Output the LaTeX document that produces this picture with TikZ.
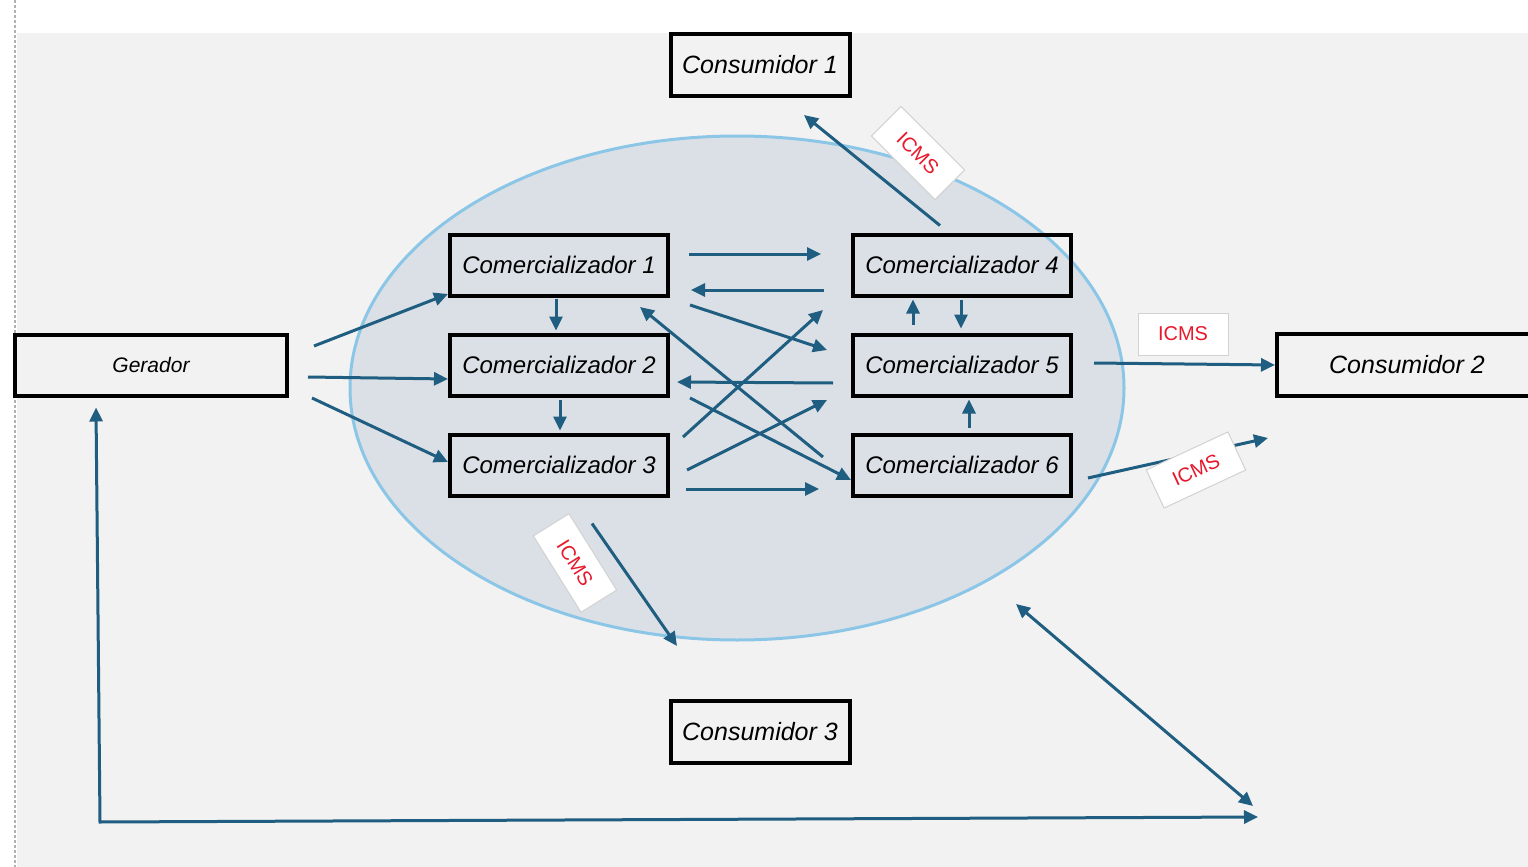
\documentclass[tikz,border=0pt]{standalone}
\usepackage{fontspec}
\setmainfont{Liberation Sans}
\usetikzlibrary{calc,arrows.meta}
\definecolor{flowblue}{RGB}{31,94,128}
\definecolor{bggray}{RGB}{242,242,242}
\definecolor{ellfill}{RGB}{218,224,230}
\definecolor{ellline}{RGB}{140,198,230}
\definecolor{icmsred}{RGB}{232,25,44}

\begin{document}
\begin{tikzpicture}[x=0.5pt, y=-0.5pt,
    >={Triangle[length=7pt,width=6.5pt]},
    agent/.style={draw, line width=2pt, minimum width=109pt, minimum height=30.5pt,
      inner sep=0pt, font=\itshape\fontsize{12}{14}\selectfont},
    client/.style={agent, minimum width=89.5pt, minimum height=31pt,
      font=\itshape\fontsize{12.5}{14}\selectfont},
    flow/.style={draw=flowblue, line width=1.5pt, ->},
    icms/.style={draw=gray!35, fill=white, line width=0.5pt, text=icmsred,
      minimum width=45pt, minimum height=21pt, inner sep=0pt,
      font=\fontsize{10}{12}\selectfont}]
    \useasboundingbox (0,0) rectangle (1528,867);
    \fill[white] (0,0) rectangle (1528,867);
    \fill[bggray] (17,33) rectangle (1528,867);
    \draw[gray!60, line width=0.6pt, dash pattern=on 1.5pt off 1pt] (15,0) -- (15,867);
    \draw[fill=ellfill, draw=ellline, line width=1.5pt] (737,388) ellipse [x radius=193.5pt, y radius=126pt];

    \node[agent, minimum width=136pt, font=\itshape\fontsize{10.5}{12}\selectfont] (g) at (151,365) {Gerador};

    \node[agent] (c1) at (559,265) {Comercializador 1};
    \node[agent] (c2) at (559,365) {Comercializador 2};
    \node[agent] (c3) at (559,465) {Comercializador 3};
    \node[agent] (c4) at (962,265) {Comercializador 4};
    \node[agent] (c5) at (962,365) {Comercializador 5};
    \node[agent] (c6) at (962,465) {Comercializador 6};

    \node[client] (k1) at (760,65) {Consumidor 1};
    \node[client, minimum width=130pt] (k2) at (1407,365) {Consumidor 2};
    \node[client] (k3) at (760,732) {Consumidor 3};

    \coordinate (m1) at (1016,604);
    \coordinate (m2) at (1253,806);
    \coordinate (l1) at (100,822);
    \coordinate (l2) at (1258,817);

    \draw[flow] ($(g.east)+(25,-19)$) -- ($(c1.west)+(0,29)$);
    \draw[flow] ($(g.east)+(19,12)$) -- ($(c2.west)+(0,14)$);
    \draw[flow] ($(g.east)+(23,33)$) -- ($(c3.west)+(0,-3)$);

    \draw[flow] ($(c1.south)+(-3,1)$) -- ($(c2.north)+(-3,-2)$);
    \draw[flow] ($(c2.south)+(1,2)$) -- ($(c3.north)+(1,-2)$);

    \draw[flow] ($(c1.east)+(19,-11)$) -- ($(c4.west)+(-30,-11)$);
    \draw[flow] ($(c4.west)+(-27,25)$) -- ($(c1.east)+(21,25)$);
    \draw[flow] ($(c1.east)+(20,40)$) -- ($(c5.west)+(-24,-15)$);
    \draw[flow] ($(c3.east)+(13,-28)$) -- ($(c4.west)+(-28,45)$);
    \draw[flow] ($(c5.west)+(-18,18)$) -- ($(c2.east)+(7,17)$);
    \draw[flow] ($(c3.east)+(17,5)$) -- ($(c5.west)+(-24,35)$);
    \draw[flow] ($(c2.east)+(20,33)$) -- ($(c6.west)+(0,15)$);
    \draw[flow] ($(c6.west)+(-28,-8)$) -- ($(c1.east)+(-30,42)$);
    \draw[flow] ($(c3.east)+(16,24)$) -- ($(c6.west)+(-32,24)$);

    \draw[flow] ($(c5.north)+(-49,-8)$) -- ($(c4.south)+(-49,2)$);
    \draw[flow] ($(c4.south)+(-1,2)$) -- ($(c5.north)+(-1,-4)$);
    \draw[flow] ($(c6.north)+(7,-5)$) -- ($(c5.south)+(7,2)$);

    \draw[flow] ($(c4.north)+(-22,-7)$) -- ($(k1.south)+(44,17)$);
    \draw[flow] ($(c5.east)+(21,-2)$) -- (k2.west);
    \draw[flow] ($(c6.east)+(15,13)$) -- ($(k2.south west)+(-7,40)$);
    \draw[flow] ($(c3.south)+(33,26)$) -- ($(k3.north)+(-83,-53)$);

    \draw[flow, <->] (m1) -- (m2);
    \draw[flow, <->] ($(g.south)+(-55,10)$) -- (l1) -- (l2);

    \node[icms, rotate=-45] (t1) at (918,153) {ICMS};
    \node[icms] (t2) at (1183,334) {ICMS};
    \node[icms, rotate=25] (t3) at (1196,470) {ICMS};
    \node[icms, rotate=-58] (t4) at (575,563) {ICMS};
  \end{tikzpicture}
\end{document}
